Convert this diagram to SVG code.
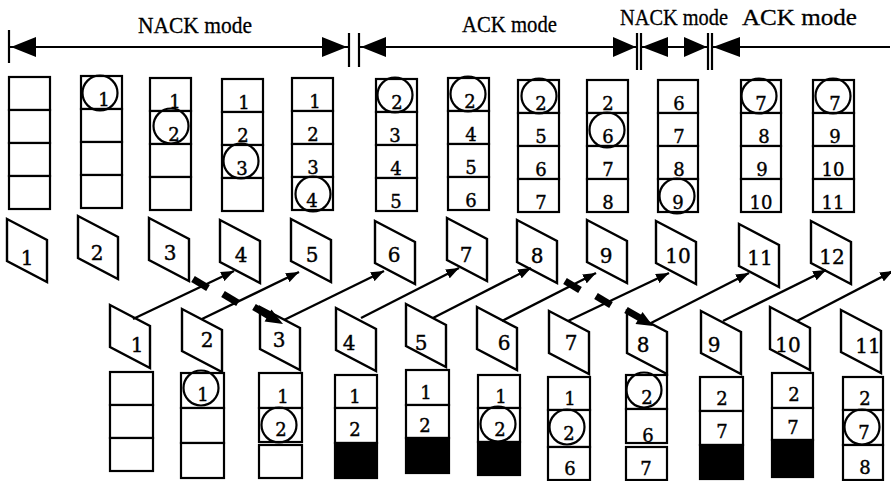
<svg xmlns="http://www.w3.org/2000/svg" width="891" height="481" viewBox="0 0 891 481">
<style>
.cell{fill:#fff;stroke:#000;stroke-width:2.2}
.blk{fill:#000;stroke:#000;stroke-width:2.2}
.ring{fill:none;stroke:#000;stroke-width:2.2}
.pkt{fill:#fff;stroke:#000;stroke-width:2.4;stroke-linejoin:miter}
.num{font-family:"DejaVu Serif","Liberation Serif",serif;font-size:18px;text-anchor:middle;fill:#000;stroke:#000;stroke-width:0.4}
.pn{font-family:"DejaVu Serif","Liberation Serif",serif;font-size:20px;text-anchor:middle;fill:#000;stroke:#000;stroke-width:0.4}
.lbl{font-family:"Liberation Serif","Times New Roman",serif;font-size:24px;fill:#000;stroke:#000;stroke-width:0.3}
.fb{fill:none;stroke:#000;stroke-width:2.4;marker-end:url(#ah)}
.cut{stroke:#000;stroke-width:7;stroke-linecap:butt}
.bar{stroke:#000;stroke-width:2.2;fill:none}
.tri{fill:#000;stroke:none}
</style>
<defs>
<marker id="ah" markerUnits="userSpaceOnUse" markerWidth="14" markerHeight="10" refX="13" refY="5" orient="auto">
<path d="M0,0 L13,5 L0,10 Z" fill="#000"/>
</marker>
<path id="pk" d="M0 0 L40 21 L40 63 L0 42 Z"/>
</defs>

<g id="mode-bar">
<line class="bar" x1="9" y1="47" x2="349" y2="47"/>
<line class="bar" x1="359" y1="47" x2="637" y2="47"/>
<line class="bar" x1="641" y1="47" x2="708" y2="47"/>
<line class="bar" x1="712" y1="47" x2="890" y2="47"/>
<line class="bar" x1="9" y1="30" x2="9" y2="63"/>
<line class="bar" x1="349" y1="33" x2="349" y2="67"/>
<line class="bar" x1="359" y1="33" x2="359" y2="67"/>
<line class="bar" x1="637" y1="33" x2="637" y2="70"/>
<line class="bar" x1="641" y1="33" x2="641" y2="70"/>
<line class="bar" x1="708" y1="33" x2="708" y2="70"/>
<line class="bar" x1="712" y1="33" x2="712" y2="70"/>
<polygon class="tri" points="11,47 36,37 36,57"/>
<polygon class="tri" points="347,47 322,37 322,57"/>
<polygon class="tri" points="361,47 386,37 386,57"/>
<polygon class="tri" points="636,47 613,37 613,57"/>
<polygon class="tri" points="642,47 668,37 668,57"/>
<polygon class="tri" points="707,47 684,37 684,57"/>
<polygon class="tri" points="713,47 740,37 740,57"/>
<text class="lbl" x="138" y="33" textLength="114" lengthAdjust="spacingAndGlyphs">NACK mode</text>
<text class="lbl" x="462" y="32" textLength="95" lengthAdjust="spacingAndGlyphs">ACK mode</text>
<text class="lbl" x="620" y="25" textLength="108" lengthAdjust="spacingAndGlyphs">NACK mode</text>
<text class="lbl" x="742" y="25" textLength="115" lengthAdjust="spacingAndGlyphs">ACK mode</text>
</g>

<!-- sender buffers -->
<g id="tx-buf-1">
<rect class="cell" x="9" y="77" width="41" height="33"/><rect class="cell" x="9" y="110" width="41" height="33"/><rect class="cell" x="9" y="143" width="41" height="33"/><rect class="cell" x="9" y="176" width="41" height="33"/>
</g>
<g id="tx-buf-2">
<rect class="cell" x="81" y="76" width="41" height="33"/><rect class="cell" x="81" y="109" width="41" height="33"/><rect class="cell" x="81" y="142" width="41" height="33"/><rect class="cell" x="81" y="175" width="41" height="33"/>
<text class="num" x="104" y="106">1</text><circle class="ring" cx="100" cy="93" r="17.5"/>
</g>
<g id="tx-buf-3">
<rect class="cell" x="150" y="78" width="41" height="33"/><rect class="cell" x="150" y="111" width="41" height="33"/><rect class="cell" x="150" y="144" width="41" height="33"/><rect class="cell" x="150" y="177" width="41" height="33"/>
<text class="num" x="175" y="108">1</text><text class="num" x="174" y="141">2</text><circle class="ring" cx="171" cy="126" r="17.5"/>
</g>
<g id="tx-buf-4">
<rect class="cell" x="222" y="79" width="41" height="33"/><rect class="cell" x="222" y="112" width="41" height="33"/><rect class="cell" x="222" y="145" width="41" height="33"/><rect class="cell" x="222" y="178" width="41" height="33"/>
<text class="num" x="244" y="109">1</text><text class="num" x="243" y="142">2</text><text class="num" x="242" y="175">3</text><circle class="ring" cx="241" cy="161" r="17.5"/>
</g>
<g id="tx-buf-5">
<rect class="cell" x="292" y="78" width="41" height="33"/><rect class="cell" x="292" y="111" width="41" height="33"/><rect class="cell" x="292" y="144" width="41" height="33"/><rect class="cell" x="292" y="177" width="41" height="33"/>
<text class="num" x="315" y="108">1</text><text class="num" x="313" y="141">2</text><text class="num" x="313" y="174">3</text><text class="num" x="312" y="207">4</text><circle class="ring" cx="313" cy="194" r="17.5"/>
</g>
<g id="tx-buf-6">
<rect class="cell" x="376" y="79" width="41" height="33"/><rect class="cell" x="376" y="112" width="41" height="33"/><rect class="cell" x="376" y="145" width="41" height="33"/><rect class="cell" x="376" y="178" width="41" height="33"/>
<text class="num" x="397" y="109">2</text><circle class="ring" cx="395" cy="95" r="17.5"/><text class="num" x="395" y="142">3</text><text class="num" x="396" y="175">4</text><text class="num" x="396" y="208">5</text>
</g>
<g id="tx-buf-7">
<rect class="cell" x="448" y="78" width="41" height="33"/><rect class="cell" x="448" y="111" width="41" height="33"/><rect class="cell" x="448" y="144" width="41" height="33"/><rect class="cell" x="448" y="177" width="41" height="33"/>
<text class="num" x="470" y="108">2</text><circle class="ring" cx="468" cy="94" r="17.5"/><text class="num" x="471" y="141">4</text><text class="num" x="471" y="174">5</text><text class="num" x="471" y="207">6</text>
</g>
<g id="tx-buf-8">
<rect class="cell" x="518" y="80" width="41" height="33"/><rect class="cell" x="518" y="113" width="41" height="33"/><rect class="cell" x="518" y="146" width="41" height="33"/><rect class="cell" x="518" y="179" width="41" height="33"/>
<text class="num" x="541" y="110">2</text><circle class="ring" cx="539" cy="96" r="17.5"/><text class="num" x="541" y="143">5</text><text class="num" x="541" y="176">6</text><text class="num" x="541" y="209">7</text>
</g>
<g id="tx-buf-9">
<rect class="cell" x="587" y="80" width="41" height="33"/><rect class="cell" x="587" y="113" width="41" height="33"/><rect class="cell" x="587" y="146" width="41" height="33"/><rect class="cell" x="587" y="179" width="41" height="33"/>
<text class="num" x="608" y="110">2</text><text class="num" x="608" y="143">6</text><circle class="ring" cx="607" cy="130" r="17.5"/><text class="num" x="608" y="176">7</text><text class="num" x="608" y="209">8</text>
</g>
<g id="tx-buf-10">
<rect class="cell" x="658" y="80" width="40" height="33"/><rect class="cell" x="658" y="113" width="40" height="33"/><rect class="cell" x="658" y="146" width="40" height="33"/><rect class="cell" x="658" y="179" width="40" height="33"/>
<text class="num" x="679" y="110">6</text><text class="num" x="679" y="143">7</text><text class="num" x="679" y="176">8</text><text class="num" x="678" y="209">9</text><circle class="ring" cx="677" cy="196" r="17.5"/>
</g>
<g id="tx-buf-11">
<rect class="cell" x="741" y="80" width="40" height="33"/><rect class="cell" x="741" y="113" width="40" height="33"/><rect class="cell" x="741" y="146" width="40" height="33"/><rect class="cell" x="741" y="179" width="40" height="33"/>
<text class="num" x="761" y="110">7</text><circle class="ring" cx="759" cy="96" r="17.5"/><text class="num" x="764" y="143">8</text><text class="num" x="762" y="176">9</text><text class="num" x="761" y="209">10</text>
</g>
<g id="tx-buf-12">
<rect class="cell" x="813" y="80" width="41" height="33"/><rect class="cell" x="813" y="113" width="41" height="33"/><rect class="cell" x="813" y="146" width="41" height="33"/><rect class="cell" x="813" y="179" width="41" height="33"/>
<text class="num" x="835" y="110">7</text><circle class="ring" cx="833" cy="96" r="17.5"/><text class="num" x="835" y="143">9</text><text class="num" x="833" y="176">10</text><text class="num" x="833" y="209">11</text>
</g>

<!-- sent packets -->
<g id="tx-pkt-1"><use href="#pk" class="pkt" transform="translate(7,219)"/><text class="pn" x="27" y="265">1</text></g>
<g id="tx-pkt-2"><use href="#pk" class="pkt" transform="translate(78,216)"/><text class="pn" x="97" y="260">2</text></g>
<g id="tx-pkt-3"><use href="#pk" class="pkt" transform="translate(149,218)"/><text class="pn" x="170" y="260">3</text></g>
<g id="tx-pkt-4"><use href="#pk" class="pkt" transform="translate(220,220)"/><text class="pn" x="241" y="262">4</text></g>
<g id="tx-pkt-5"><use href="#pk" class="pkt" transform="translate(291,219)"/><text class="pn" x="312" y="262">5</text></g>
<g id="tx-pkt-6"><use href="#pk" class="pkt" transform="translate(375,221)"/><text class="pn" x="394" y="262">6</text></g>
<g id="tx-pkt-7"><use href="#pk" class="pkt" transform="translate(447,218)"/><text class="pn" x="466" y="262">7</text></g>
<g id="tx-pkt-8"><use href="#pk" class="pkt" transform="translate(517,220)"/><text class="pn" x="537" y="263">8</text></g>
<g id="tx-pkt-9"><use href="#pk" class="pkt" transform="translate(587,220)"/><text class="pn" x="606" y="263">9</text></g>
<g id="tx-pkt-10"><use href="#pk" class="pkt" transform="translate(656,221)"/><text class="pn" x="678" y="263">10</text></g>
<g id="tx-pkt-11"><use href="#pk" class="pkt" transform="translate(739,224)"/><text class="pn" x="760" y="265">11</text></g>
<g id="tx-pkt-12"><use href="#pk" class="pkt" transform="translate(811,221)"/><text class="pn" x="832" y="264">12</text></g>

<!-- received packets -->
<g id="rx-pkt-1"><use href="#pk" class="pkt" transform="translate(110,305)"/><text class="pn" x="137" y="352">1</text></g>
<g id="rx-pkt-2"><use href="#pk" class="pkt" transform="translate(182,309)"/><text class="pn" x="207" y="347">2</text></g>
<g id="rx-pkt-3"><use href="#pk" class="pkt" transform="translate(260,307)"/><text class="pn" x="279" y="347">3</text></g>
<g id="rx-pkt-4"><use href="#pk" class="pkt" transform="translate(336,308)"/><text class="pn" x="349" y="350">4</text></g>
<g id="rx-pkt-5"><use href="#pk" class="pkt" transform="translate(406,304)"/><text class="pn" x="421" y="350">5</text></g>
<g id="rx-pkt-6"><use href="#pk" class="pkt" transform="translate(477,307)"/><text class="pn" x="504" y="350">6</text></g>
<g id="rx-pkt-7"><use href="#pk" class="pkt" transform="translate(549,311)"/><text class="pn" x="571" y="350">7</text></g>
<g id="rx-pkt-8"><use href="#pk" class="pkt" transform="translate(627,311)"/><text class="pn" x="643" y="352">8</text></g>
<g id="rx-pkt-9"><use href="#pk" class="pkt" transform="translate(701,311)"/><text class="pn" x="714" y="352">9</text></g>
<g id="rx-pkt-10"><use href="#pk" class="pkt" transform="translate(770,307)"/><text class="pn" x="788" y="352">10</text></g>
<g id="rx-pkt-11"><use href="#pk" class="pkt" transform="translate(841,310)"/><text class="pn" x="868" y="353">11</text></g>

<!-- receiver buffers -->
<g id="rx-buf-1">
<rect class="cell" x="110" y="372" width="43" height="33"/><rect class="cell" x="110" y="405" width="43" height="33"/><rect class="cell" x="110" y="438" width="43" height="33"/>
</g>
<g id="rx-buf-2">
<rect class="cell" x="181" y="373" width="43" height="35"/><rect class="cell" x="181" y="408" width="43" height="35"/><rect class="cell" x="181" y="443" width="43" height="35"/>
<text class="num" x="203" y="401">1</text><circle class="ring" cx="201" cy="388" r="17.5"/>
</g>
<g id="rx-buf-3">
<rect class="cell" x="259" y="373" width="43" height="35"/><rect class="cell" x="259" y="408" width="43" height="34"/><rect class="cell" x="259" y="445" width="43" height="33"/>
<text class="num" x="283" y="403">1</text><text class="num" x="281" y="436">2</text><circle class="ring" cx="279" cy="425" r="17.5"/>
</g>
<g id="rx-buf-4">
<rect class="cell" x="335" y="375" width="42" height="33"/><rect class="cell" x="335" y="408" width="42" height="35"/><rect class="blk" x="335" y="443" width="42" height="35"/>
<text class="num" x="355" y="403">1</text><text class="num" x="355" y="436">2</text>
</g>
<g id="rx-buf-5">
<rect class="cell" x="406" y="370" width="43" height="35"/><rect class="cell" x="406" y="405" width="43" height="33"/><rect class="blk" x="406" y="438" width="43" height="35"/>
<text class="num" x="426" y="399">1</text><text class="num" x="425" y="432">2</text>
</g>
<g id="rx-buf-6">
<rect class="cell" x="478" y="375" width="42" height="33"/><rect class="cell" x="478" y="408" width="42" height="34"/><rect class="blk" x="478" y="442" width="42" height="33"/>
<text class="num" x="501" y="403">1</text><text class="num" x="500" y="436">2</text><circle class="ring" cx="498" cy="424" r="17.5"/>
</g>
<g id="rx-buf-7">
<rect class="cell" x="548" y="377" width="42" height="33"/><rect class="cell" x="548" y="410" width="42" height="37"/><rect class="cell" x="548" y="447" width="42" height="33"/>
<text class="num" x="570" y="405">1</text><text class="num" x="569" y="440">2</text><circle class="ring" cx="567" cy="427" r="17.5"/><text class="num" x="570" y="475">6</text>
</g>
<g id="rx-buf-8">
<rect class="cell" x="626" y="375" width="41" height="34"/><rect class="cell" x="626" y="409" width="41" height="34"/><rect class="cell" x="626" y="447" width="41" height="33"/>
<text class="num" x="647" y="404">2</text><circle class="ring" cx="644" cy="390" r="17.5"/><text class="num" x="648" y="442">6</text><text class="num" x="646" y="475">7</text>
</g>
<g id="rx-buf-9">
<rect class="cell" x="700" y="377" width="43" height="34"/><rect class="cell" x="700" y="411" width="43" height="34"/><rect class="blk" x="700" y="445" width="43" height="34"/>
<text class="num" x="722" y="405">2</text><text class="num" x="722" y="438">7</text>
</g>
<g id="rx-buf-10">
<rect class="cell" x="772" y="373" width="41" height="35"/><rect class="cell" x="772" y="408" width="41" height="32"/><rect class="blk" x="772" y="440" width="41" height="37"/>
<text class="num" x="794" y="401">2</text><text class="num" x="793" y="434">7</text>
</g>
<g id="rx-buf-11">
<rect class="cell" x="843" y="377" width="40" height="33"/><rect class="cell" x="843" y="410" width="40" height="35"/><rect class="cell" x="843" y="445" width="40" height="35"/>
<text class="num" x="865" y="405">2</text><text class="num" x="864" y="439">7</text><circle class="ring" cx="862" cy="427" r="17.5"/><text class="num" x="865" y="474">8</text>
</g>

<!-- connectors -->
<g id="connectors">
<line class="fb" x1="133" y1="319" x2="234" y2="271"/>
<line class="fb" x1="202" y1="319" x2="299" y2="272"/>
<line class="fb" x1="284" y1="320" x2="384" y2="271"/>
<line class="fb" x1="361" y1="318" x2="459" y2="268"/>
<line class="fb" x1="433" y1="318" x2="531" y2="268"/>
<line class="fb" x1="502" y1="321" x2="596" y2="273"/>
<line class="fb" x1="568" y1="321" x2="669" y2="273"/>
<line class="fb" x1="651" y1="323" x2="749" y2="273"/>
<line class="fb" x1="723" y1="321" x2="826" y2="270"/>
<line class="fb" x1="797" y1="321" x2="893" y2="271"/>
<line class="cut" x1="193" y1="279" x2="208" y2="288"/>
<line class="cut" x1="223" y1="294" x2="238" y2="303"/>
<line class="cut" x1="565" y1="281" x2="580" y2="290"/>
<line class="cut" x1="596" y1="296" x2="611" y2="305"/>
<line class="cut" x1="254" y1="307" x2="269" y2="316"/>
<polygon class="tri" points="283,324 264.6,321.6 271.4,309.4"/>
<line class="cut" x1="626" y1="310" x2="640" y2="318"/>
<polygon class="tri" points="653,326 635.5,324.1 642.5,311.9"/>
</g>
</svg>
